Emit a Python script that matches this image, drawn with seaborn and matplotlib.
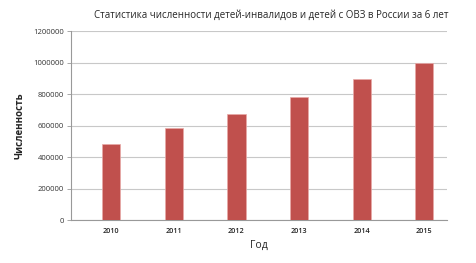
import seaborn as sns
import pandas as pd
import matplotlib.pyplot as plt
import numpy as np

years = ["2010", "2011", "2012", "2013", "2014", "2015"]
counts = [485000, 582000, 675000, 780000, 897000, 1000000]

df = pd.DataFrame({"Год": years, "Численность": counts})

sns.set_theme(style="white")
plt.rcParams['font.family'] = ['Open Sans', 'DejaVu Sans']

fig = plt.figure(figsize=(4.77, 2.63), dpi=100)
ax = fig.add_axes([0.149, 0.163, 0.788, 0.719])

sns.barplot(data=df, x="Год", y="Численность", color="#C0504D", width=0.29,
            saturation=1, ax=ax, zorder=3, edgecolor="#E8A9A7", linewidth=0.5)

ax.set_xlim(-0.64, 5.36)
ax.set_ylim(0, 1200000)
ax.set_yticks(np.arange(0, 1200001, 200000))
ax.set_yticklabels([str(v) for v in range(0, 1200001, 200000)], fontsize=5.5, color="#333333")
ax.set_xticks(range(len(years)))
ax.set_xticklabels(years, fontsize=5.2, color="#222222", fontweight="semibold")
ax.set_xticks(np.arange(-0.64, 5.4, 1.0), minor=True)
ax.tick_params(axis="x", which="major", length=0, pad=6)
ax.tick_params(axis="x", which="minor", length=3, width=0.6, color="#999999", direction="out")
ax.tick_params(axis="y", length=3, width=0.6, color="#999999", direction="out", left=True, pad=2)

ax.yaxis.grid(True, color="#C8C8C8", linewidth=0.8, zorder=0)
for s in ["top", "right"]:
    ax.spines[s].set_visible(False)
for s in ["left", "bottom"]:
    ax.spines[s].set_color("#999999")
    ax.spines[s].set_linewidth(0.8)

ax.set_xlabel("Год", fontsize=7.5, labelpad=3)
ax.set_ylabel("Численность", fontsize=7, fontweight="bold", labelpad=6)
fig.text(0.568, 0.94, "Статистика численности детей-инвалидов и детей с ОВЗ в России за 6 лет",
         ha="center", va="center", fontsize=7)

plt.savefig("out.png", dpi=100)
